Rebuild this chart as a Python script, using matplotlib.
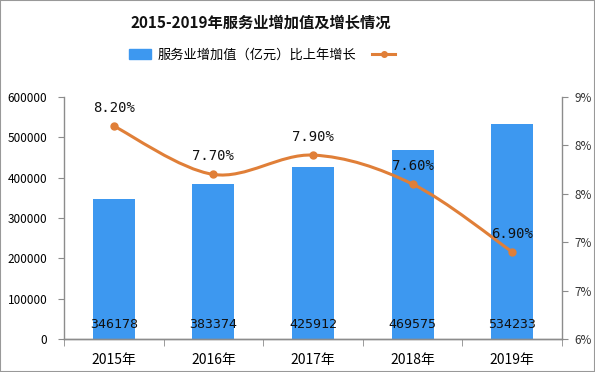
import math
import matplotlib
matplotlib.use("Agg")
import matplotlib.pyplot as plt
from matplotlib.path import Path
from matplotlib.patches import PathPatch, Patch, Rectangle
from matplotlib.lines import Line2D
from matplotlib.ticker import FuncFormatter

plt.rcParams['font.family'] = ['Noto Sans CJK SC', 'DejaVu Sans']

years = ['2015年', '2016年', '2017年', '2018年', '2019年']
value_added = [346178, 383374, 425912, 469575, 534233]   # 亿元
growth = [8.2, 7.7, 7.9, 7.6, 6.9]                       # %

blue = '#3d98f0'
orange = '#e07f38'
grey = '#8c8c8c'

fig = plt.figure(figsize=(5.95, 3.72), dpi=100)
ax = fig.add_axes([64 / 595, 33 / 372, 498 / 595, 242 / 372])
ax2 = ax.twinx()

x = list(range(len(years)))
ax.bar(x, value_added, width=0.42, color=blue, zorder=2)
for xi, v in zip(x, value_added):
    ax.text(xi, 36000, str(v), ha='center', va='center', fontsize=9.5,
            family='DejaVu Sans Mono', color='#111111', zorder=3)

ax.set_xlim(-0.5, len(years) - 0.5)
ax.set_ylim(0, 600000)
ax.set_yticks(range(0, 600001, 100000))
ax.set_xticks(x)
ax.set_xticklabels(years, fontsize=10)
ax.set_xticks([i - 0.5 for i in range(len(years) + 1)], minor=True)
ax.tick_params(axis='x', which='major', length=0, pad=10)
ax.tick_params(axis='x', which='minor', length=5, color=grey, direction='out')
ax.tick_params(axis='y', length=4, color=grey, labelsize=8.5, pad=8)

# smoothed growth line (Catmull-Rom style bezier through the points)
pts = list(zip(x, growth))
verts = [pts[0]]
codes = [Path.MOVETO]
for i in range(len(pts) - 1):
    p0 = pts[max(i - 1, 0)]
    p1 = pts[i]
    p2 = pts[i + 1]
    p3 = pts[min(i + 2, len(pts) - 1)]
    c1 = (p1[0] + (p2[0] - p0[0]) / 6, p1[1] + (p2[1] - p0[1]) / 6)
    c2 = (p2[0] - (p3[0] - p1[0]) / 6, p2[1] - (p3[1] - p1[1]) / 6)
    verts += [c1, c2, p2]
    codes += [Path.CURVE4] * 3
ax2.add_patch(PathPatch(Path(verts, codes), fill=False, edgecolor=orange,
                        lw=2.2, zorder=4))
ax2.plot(x, growth, 'o', color=orange, ms=5, zorder=5)
for xi, g in zip(x, growth):
    ax2.annotate(f'{g:.2f}%', (xi, g), xytext=(0, 8), textcoords='offset points',
                 ha='center', va='bottom', fontsize=10, family='DejaVu Sans Mono',
                 color='#111111', zorder=6)

ax2.set_ylim(6.0, 8.5)
ax2.set_yticks([6.0, 6.5, 7.0, 7.5, 8.0, 8.5])
ax2.yaxis.set_major_formatter(FuncFormatter(lambda v, p: f'{math.floor(v + 0.5 + 1e-9)}%'))
ax2.tick_params(axis='y', length=4, color=grey, labelsize=8.5, labelcolor='#333333', pad=5)

for a in (ax, ax2):
    a.spines['top'].set_visible(False)
    for s in ('left', 'right', 'bottom'):
        a.spines[s].set_color(grey)
        a.spines[s].set_linewidth(1)
ax2.spines['left'].set_visible(False)
ax.spines['right'].set_visible(False)
ax.set_zorder(ax2.get_zorder() - 1)
ax.patch.set_visible(False)

fig.text(261 / 595, 1 - 23 / 372, '2015-2019年服务业增加值及增长情况', ha='center',
         va='center', fontsize=11, fontweight='bold', color='#111111')

# legend as in the source: one text after the bar key, the line key at the end
handles = [Patch(color=blue),
           Line2D([], [], color=orange, lw=2.2, marker='o', ms=4)]
fig.legend(handles, ['服务业增加值（亿元）比上年增长', ''], loc='center',
           bbox_to_anchor=(265 / 595, 1 - 55 / 372), ncol=2, frameon=False,
           fontsize=9.5, handlelength=1.7, columnspacing=1.2, handletextpad=0.5)

fig.patches.append(Rectangle((0, 0), 1, 1, transform=fig.transFigure, fill=False,
                             edgecolor='#999999', lw=1.5))

fig.savefig('out.png', dpi=100)
